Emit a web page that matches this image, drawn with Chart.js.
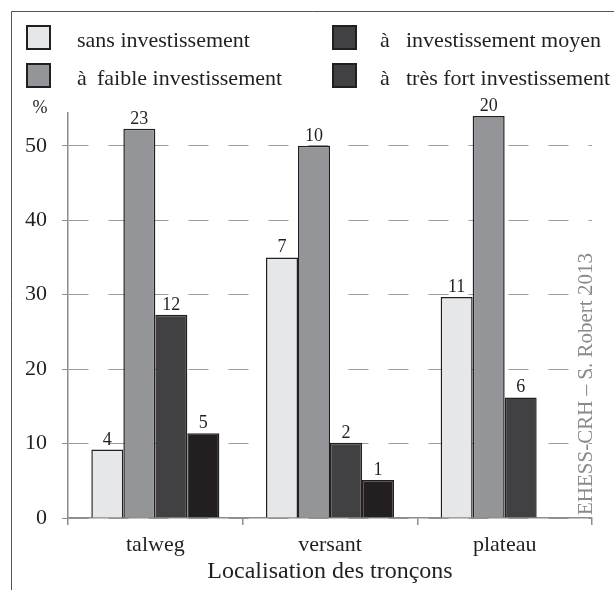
<!DOCTYPE html>
<html>
<head>
<meta charset="utf-8">
<script src="https://cdn.jsdelivr.net/npm/chart.js@4"></script>
<style>body{margin:0;background:#fff}</style>
</head>
<body>
<canvas id="canvas" width="614" height="590"></canvas>
<script>
var categories = ['talweg', 'versant', 'plateau'];
var seriesNames = ['sans investissement', 'à faible investissement', 'à investissement moyen', 'à très fort investissement'];
var sansValues = [9.2, 35, 29.7];
var faibleValues = [52.3, 50, 54];
var moyenValues = [27.3, 10.1, 16.2];
var tresFortValues = [11.4, 5.1, null];
// counts printed above the bars
var sansCounts = [4, 7, 11];
var faibleCounts = [23, 10, 20];
var moyenCounts = [12, 2, 6];
var tresFortCounts = [5, 1, null];
var yTicks = [0, 10, 20, 30, 40, 50];
var xTitle = 'Localisation des tronçons';
var credit = 'EHESS-CRH – S. Robert 2013';

var serif = '"Liberation Serif", "Times New Roman", serif';
var barColors = ['#e6e7e8', '#939598', '#414042', '#231f20'];
var legendColors = ['#e6e7e8', '#939598', '#414042', '#414042'];
var counts = [sansCounts, faibleCounts, moyenCounts, tresFortCounts];

function makeDataset(i, values){
	return {
		label: seriesNames[i],
		data: values,
		backgroundColor: barColors[i],
		borderColor: '#231f20',
		borderWidth: 1.5,
		barPercentage: 1,
		categoryPercentage: 0.733
	};
}

var decorPlugin = {
	id: 'decor',
	beforeDraw: function(chart){
		var ctx = chart.ctx;
		ctx.save();
		// frame
		ctx.strokeStyle = '#555';
		ctx.lineWidth = 1;
		ctx.beginPath();
		ctx.moveTo(11.5, 590);
		ctx.lineTo(11.5, 11.5);
		ctx.lineTo(614, 11.5);
		ctx.stroke();
		// legend, two columns
		var cols = [[26, 77, 97], [332, 380, 406]];
		ctx.font = '22px ' + serif;
		ctx.textBaseline = 'alphabetic';
		ctx.fillStyle = '#231f20';
		for (var i = 0; i < seriesNames.length; i++){
			var col = cols[Math.floor(i / 2)];
			var boxY = 25 + (i % 2) * 38;
			ctx.fillStyle = legendColors[i];
			ctx.fillRect(col[0], boxY, 25, 25);
			ctx.strokeStyle = '#231f20';
			ctx.lineWidth = 2;
			ctx.strokeRect(col[0] + 1, boxY + 1, 23, 23);
			ctx.fillStyle = '#231f20';
			var name = seriesNames[i];
			if (name.indexOf('à ') == 0){
				ctx.fillText('à', col[1], boxY + 22);
				ctx.fillText(name.substring(2), col[2], boxY + 22);
			}else{
				ctx.fillText(name, col[1], boxY + 22);
			}
		}
		// unit
		ctx.font = '18px ' + serif;
		ctx.textAlign = 'center';
		ctx.fillText('%', 40, 113);
		// credit, vertical
		ctx.translate(592, 515);
		ctx.rotate(-Math.PI / 2);
		ctx.textAlign = 'left';
		ctx.fillStyle = '#8a8a8a';
		ctx.font = '21px ' + serif;
		ctx.fillText(credit, 0, 0);
		ctx.restore();
	},
	afterDatasetsDraw: function(chart){
		var ctx = chart.ctx;
		ctx.save();
		ctx.font = '18px ' + serif;
		ctx.fillStyle = '#231f20';
		ctx.textAlign = 'center';
		ctx.textBaseline = 'alphabetic';
		for (var i = 0; i < counts.length; i++){
			var meta = chart.getDatasetMeta(i);
			meta.data.forEach(function(bar, j){
				if (counts[i][j] == null) return;
				ctx.fillText(String(counts[i][j]), bar.x, bar.y - 5);
			});
		}
		ctx.restore();
	}
};

var config = {
	type: 'bar',
	data: {
		labels: categories,
		datasets: [
			makeDataset(0, sansValues),
			makeDataset(1, faibleValues),
			makeDataset(2, moyenValues),
			makeDataset(3, tresFortValues)
		]
	},
	options: {
		responsive: false,
		animation: false,
		layout: {padding: {top: 113, right: 22, bottom: 0, left: 0}},
		plugins: {legend: {display: false}, tooltip: {enabled: false}},
		scales: {
			x: {
				grid: {drawOnChartArea: false, drawTicks: true, tickLength: 7, color: '#8c8c8c', lineWidth: 1.5},
				border: {color: '#8c8c8c', width: 1.5},
				ticks: {font: {family: serif, size: 22}, color: '#231f20', padding: 7},
				title: {display: true, text: xTitle, font: {family: serif, size: 24}, color: '#231f20', padding: {top: 0, bottom: 4}},
				afterFit: function(scale){ scale.height = 72; }
			},
			y: {
				min: 0,
				max: 54.4,
				afterBuildTicks: function(scale){
					scale.ticks = yTicks.map(function(v){ return {value: v}; });
				},
				grid: {color: '#9a9a9a', lineWidth: 1, tickLength: 6, tickColor: '#8c8c8c'},
				border: {color: '#8c8c8c', width: 1.5, dash: [20, 20]},
				ticks: {font: {family: serif, size: 22}, color: '#231f20', padding: 15},
				afterFit: function(scale){ scale.width = 68; }
			}
		}
	},
	plugins: [decorPlugin]
};

var ctx = document.getElementById('canvas').getContext('2d');
window.myChart = new Chart(ctx, config);
</script>
</body>
</html>
